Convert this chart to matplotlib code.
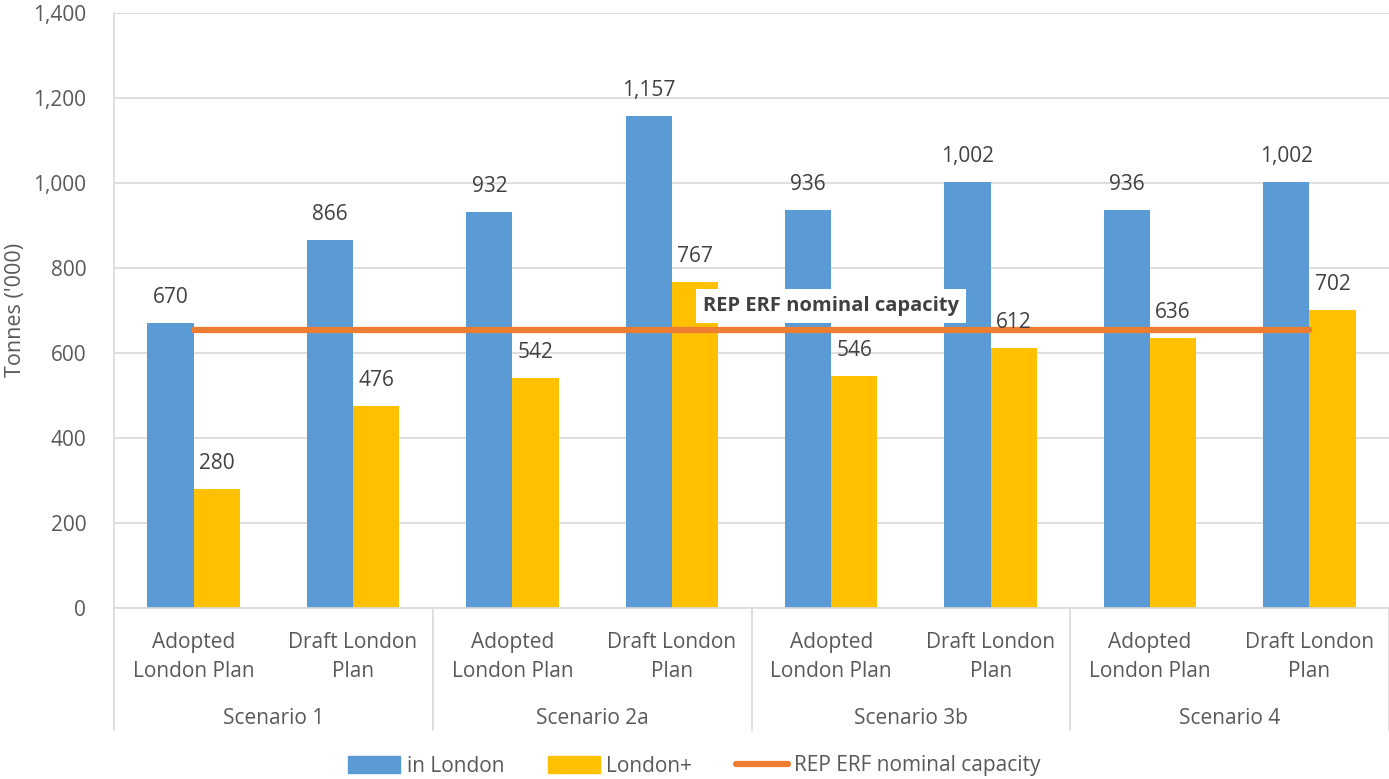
import numpy as np
import matplotlib.pyplot as plt
from matplotlib.patches import Patch
from matplotlib.lines import Line2D

plt.rcParams['font.family'] = ['Open Sans', 'DejaVu Sans']

# data
plans = ['Adopted\nLondon Plan', 'Draft London\nPlan'] * 4
scenarios = ['Scenario 1', 'Scenario 2a', 'Scenario 3b', 'Scenario 4']
in_london = [670, 866, 932, 1157, 936, 1002, 936, 1002]
london_plus = [280, 476, 542, 767, 546, 612, 636, 702]
capacity = 655

blue = '#5B9BD5'
yellow = '#FFC000'
orange = '#ED7D31'
grey_txt = '#595959'
lab_txt = '#404040'
fs = 15

fig = plt.figure(figsize=(13.89, 7.79), dpi=100)
ax = fig.add_axes([114 / 1389, 1 - 608 / 779, 1275 / 1389, 595 / 779])

x = np.arange(len(plans))
w = 0.29
ax.bar(x - w / 2, in_london, w, color=blue, zorder=2)
ax.bar(x + w / 2, london_plus, w, color=yellow, zorder=2)
ax.plot([x[0], x[-1]], [capacity, capacity], color=orange, lw=4.5,
        solid_capstyle='round', zorder=3)

for xi, v in zip(x, in_london):
    ax.text(xi - w / 2, v + 35, f'{v:,}', ha='center', va='bottom',
            fontsize=fs, color=lab_txt, zorder=4)
for xi, v in zip(x, london_plus):
    ax.text(xi + w / 2, v + 35, f'{v:,}', ha='center', va='bottom',
            fontsize=fs, color=lab_txt, zorder=4)

ax.text(4.0, 710, 'REP ERF nominal capacity', ha='center', va='center',
        fontsize=fs - 0.5, fontweight='bold', color=lab_txt, zorder=5,
        bbox=dict(facecolor='white', edgecolor='none', pad=5))

ax.set_xlim(-0.5, 7.5)
ax.set_ylim(0, 1400)
ax.set_yticks(np.arange(0, 1401, 200))
ax.set_yticklabels([f'{t:,}' for t in range(0, 1401, 200)])
ax.tick_params(axis='y', length=0, labelsize=fs, labelcolor=grey_txt, pad=20)
ax.grid(axis='y', color='#D9D9D9', lw=1.2, zorder=0)
ax.set_axisbelow(True)
fig.text(16 / 1389, 1 - 310 / 779, "Tonnes ('000)", rotation=90, ha='center',
         va='center', fontsize=fs + 0.5, color=grey_txt)

for s in ['top', 'right']:
    ax.spines[s].set_visible(False)
ax.spines['left'].set_color('#D9D9D9')
ax.spines['bottom'].set_color('#D9D9D9')
ax.spines['left'].set_linewidth(1.2)
ax.spines['bottom'].set_linewidth(1.2)

ax.set_xticks(x)
ax.set_xticklabels(plans, fontsize=fs, color=grey_txt, linespacing=1.55)
ax.tick_params(axis='x', length=0, pad=17)

# group labels and separators
trans = ax.get_xaxis_transform()
for i, sc in enumerate(scenarios):
    ax.text(2 * i + 0.5, -0.185, sc, transform=trans, ha='center', va='center',
            fontsize=fs, color=grey_txt)
for b in [-0.5, 1.5, 3.5, 5.5, 7.5]:
    ax.plot([b, b], [0, -0.205], transform=trans, color='#D9D9D9', lw=1.2,
            clip_on=False)

handles = [Patch(color=blue, label='in London'),
           Patch(color=yellow, label='London+'),
           Line2D([0], [0], color=orange, lw=4.5, solid_capstyle='round',
                  label='REP ERF nominal capacity')]
fig.legend(handles=handles, loc='center', bbox_to_anchor=(0.5, 1 - 766 / 779),
           ncol=3, frameon=False, fontsize=fs, labelcolor=grey_txt,
           handlelength=2.5, handleheight=0.9, columnspacing=2.1, handletextpad=0.3)

fig.savefig('out.png', dpi=100)
